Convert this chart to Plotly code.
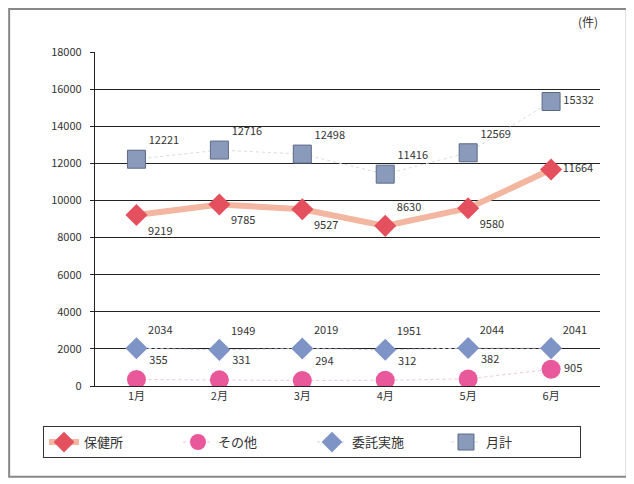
import plotly.graph_objects as go

months = ["1月", "2月", "3月", "4月", "5月", "6月"]
hokenjo = [9219, 9785, 9527, 8630, 9580, 11664]
sonota = [355, 331, 294, 312, 382, 905]
itaku = [2034, 1949, 2019, 1951, 2044, 2041]
gekkei = [12221, 12716, 12498, 11416, 12569, 15332]
y_ticks = list(range(0, 18001, 2000))

FONT = "Noto Sans CJK JP"
x = list(range(len(months)))

fig = go.Figure()
fig.add_trace(go.Scatter(
    x=x, y=hokenjo, name="保健所", mode="lines+markers+text",
    line=dict(color="#f3b6a0", width=6),
    marker=dict(symbol="diamond", size=17, color="#e4505d"),
    text=[str(v) for v in hokenjo],
    textposition=["bottom right", "bottom right", "bottom right", "top right", "bottom right", "middle right"],
    textfont=dict(size=11, color="#333333", family=FONT),
))
fig.add_trace(go.Scatter(
    x=x, y=sonota, name="その他", mode="lines+markers+text",
    line=dict(color="#f4c6d6", width=1, dash="dot"),
    marker=dict(symbol="circle", size=19, color="#e8589a"),
    text=[str(v) for v in sonota],
    textposition=["top right"] * 5 + ["middle right"],
    textfont=dict(size=11, color="#333333", family=FONT),
))
fig.add_trace(go.Scatter(
    x=x, y=itaku, name="委託実施", mode="lines+markers+text",
    line=dict(color="#c9d0e4", width=1, dash="dot"),
    marker=dict(symbol="diamond", size=17, color="#7f94c6"),
    text=[str(v) for v in itaku],
    textposition="top right",
    textfont=dict(size=11, color="#333333", family=FONT),
))
fig.add_trace(go.Scatter(
    x=x, y=gekkei, name="月計", mode="lines+markers+text",
    line=dict(color="#dcdcdc", width=1, dash="dot"),
    marker=dict(symbol="square", size=18, color="#8a9abb", line=dict(color="#5d6a85", width=1)),
    text=[str(v) for v in gekkei],
    textposition=["top right"] * 5 + ["middle right"],
    textfont=dict(size=11, color="#333333", family=FONT),
))

fig.update_layout(
    width=626, height=476,
    margin=dict(l=87, r=34, t=44, b=98),
    paper_bgcolor="white", plot_bgcolor="white",
    font=dict(family=FONT, size=11, color="#333333"),
    xaxis=dict(
        range=[-0.5, 5.59], tickmode="array", tickvals=x, ticktext=months,
        showgrid=False, showline=True, linecolor="#222222", linewidth=1.2,
        ticks="", zeroline=False, tickfont=dict(size=11),
    ),
    yaxis=dict(
        range=[0, 18000], tickmode="array", tickvals=y_ticks,
        ticktext=[str(v) for v in y_ticks],
        showgrid=True, gridcolor="#222222", gridwidth=1.2,
        showline=True, linecolor="#222222", linewidth=1.2,
        ticks="outside", ticklen=4, tickcolor="#222222",
        zeroline=False, tickfont=dict(size=11), ticklabelstandoff=6,
    ),
    legend=dict(
        orientation="h", x=-0.103, xanchor="left", y=-0.12, yanchor="top",
        bordercolor="#333333", borderwidth=1, entrywidth=89,
        font=dict(size=13, family=FONT),
    ),
    showlegend=True,
    shapes=[dict(type="rect", xref="paper", yref="paper",
                 x0=-0.170, x1=1.053, y0=-0.272, y1=1.129,
                 line=dict(color="#888888", width=2))],
    annotations=[dict(text="(件)", xref="paper", yref="paper", x=1.0, y=1.06,
                      xanchor="right", yanchor="bottom", showarrow=False,
                      font=dict(size=12, family=FONT))],
)

fig.write_html("out.html")
